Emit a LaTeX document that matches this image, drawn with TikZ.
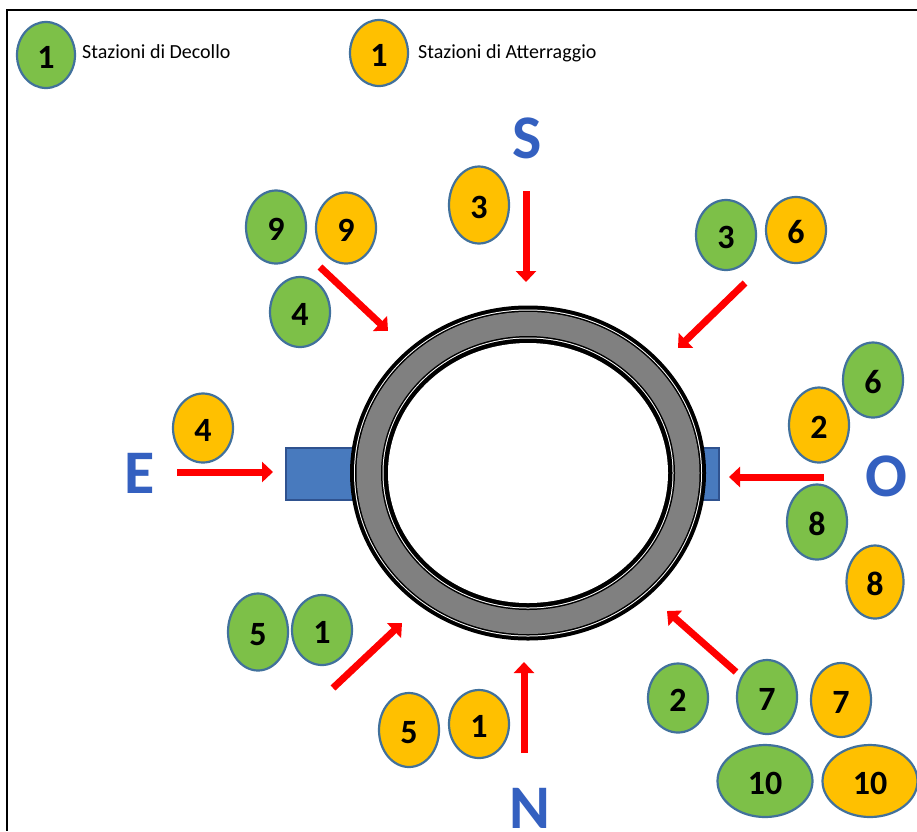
\documentclass[tikz,border=0pt]{standalone}
\usepackage{fontspec}
\setmainfont{Carlito}
\usetikzlibrary{shapes.geometric,arrows.meta}
\definecolor{stgreen}{RGB}{125,192,72}
\definecolor{storange}{RGB}{255,192,0}
\definecolor{stedge}{RGB}{65,113,156}
\definecolor{ringgray}{RGB}{128,128,128}
\definecolor{padfill}{RGB}{72,122,190}
\definecolor{padedge}{RGB}{47,82,143}
\definecolor{compass}{RGB}{52,96,192}
\definecolor{flowred}{RGB}{255,0,0}
\begin{document}
\begin{tikzpicture}[x=1pt,y=-1pt,
  station/.style={ellipse, draw=stedge, line width=2.2pt, inner sep=0pt,
    minimum width=60pt, minimum height=72pt, text height=27pt, text depth=0pt,
    font=\bfseries\fontsize{34}{34}\selectfont},
  takeoff/.style={station, fill=stgreen},
  landing/.style={station, fill=storange},
  wide/.style={minimum width=95pt},
  legendtext/.style={anchor=base west, inner sep=0pt, font=\fontsize{20}{24}\selectfont},
  heading/.style={text=compass, inner sep=0pt, font=\bfseries\fontsize{62}{62}\selectfont},
  flow/.style={draw=flowred, line width=7pt, -{Triangle[width=20pt,length=11pt]}},
  pad/.style={rectangle, fill=padfill, draw=padedge, line width=1.2pt, inner sep=0pt},
]
% page and frame
\useasboundingbox[fill=white] (0,0) rectangle (917,831);
\draw[line width=2.5pt] (917,10) -- (7,10) -- (7,831);

% legend
\node[takeoff, minimum width=58pt, minimum height=66pt] (legT) at (46,55) {1};
\node[legendtext] (legTtxt) at (82,58) {Stazioni di Decollo};
\node[landing, minimum width=58pt, minimum height=66pt] (legL) at (379,53) {1};
\node[legendtext] (legLtxt) at (418,58) {Stazioni di Atterraggio};

% gates on the two sides of the ring
\node[pad, minimum width=70pt, minimum height=52pt] (padE) at (321,474) {};
\node[pad, minimum width=19pt, minimum height=52pt] (padO) at (709.5,474) {};

% the ring: thick outer rim, grey band, thick inner rim
\coordinate (hub) at (528,473);
\fill[black]    (hub) ellipse [x radius=178,   y radius=167.5];
\fill[white]    (hub) ellipse [x radius=174,   y radius=163.5];
\fill[black]    (hub) ellipse [x radius=173,   y radius=162.5];
\fill[ringgray] (hub) ellipse [x radius=171.5, y radius=161];
\fill[black]    (hub) ellipse [x radius=147,   y radius=137];
\fill[white]    (hub) ellipse [x radius=145.5, y radius=135.5];
\fill[black]    (hub) ellipse [x radius=144.5, y radius=134.5];
\fill[white]    (hub) ellipse [x radius=140,   y radius=130];

% compass letters
\node[heading] (hS) at (527,138) {S};
\node[heading] (hE) at (140,473) {E};
\node[heading] (hO) at (886,476) {O};
\node[heading] (hN) at (530,808) {N};

% approach arrows
\coordinate (sFrom)  at (526,191); \coordinate (sTo)  at (526,282);
\coordinate (nwFrom) at (320,267); \coordinate (nwTo) at (388,331);
\coordinate (neFrom) at (745,283); \coordinate (neTo) at (678,348);
\coordinate (eFrom)  at (177,472); \coordinate (eTo)  at (273,472);
\coordinate (oFrom)  at (824,477); \coordinate (oTo)  at (729,477);
\coordinate (swFrom) at (333,688); \coordinate (swTo) at (402,623);
\coordinate (nFrom)  at (524,753); \coordinate (nTo)  at (524,662);
\coordinate (seFrom) at (736,672); \coordinate (seTo) at (667,611);
\draw[flow] (sFrom)  -- (sTo);
\draw[flow] (nwFrom) -- (nwTo);
\draw[flow] (neFrom) -- (neTo);
\draw[flow] (eFrom)  -- (eTo);
\draw[flow] (oFrom)  -- (oTo);
\draw[flow] (swFrom) -- (swTo);
\draw[flow] (nFrom)  -- (nTo);
\draw[flow] (seFrom) -- (seTo);

% stations: north-west
\node[takeoff, minimum height=73pt] (t9) at (276,227) {9};
\node[landing, minimum height=71pt] (l9) at (346,228) {9};
\node[takeoff, minimum height=70pt] (t4) at (300,312) {4};
% south
\node[landing, minimum height=77pt] (l3) at (479,205) {3};
% north-east
\node[takeoff, minimum height=70pt] (t3) at (726,235) {3};
\node[landing, minimum height=66pt] (l6) at (796,230) {6};
% east
\node[landing, minimum height=69pt] (l4) at (203,428) {4};
% west
\node[takeoff, minimum height=75pt] (t6) at (873,380) {6};
\node[landing, minimum height=75pt] (l2) at (819,425) {2};
\node[takeoff, minimum height=75pt] (t8) at (817,522) {8};
\node[landing, minimum height=73pt, minimum width=57pt] (l8) at (875,582) {8};
% south-west
\node[takeoff, minimum height=77pt] (t5) at (258,632) {5};
\node[takeoff, minimum height=70pt] (t1) at (322,630) {1};
\node[landing, minimum height=74pt] (l5) at (409,730) {5};
\node[landing, minimum height=68pt] (l1) at (479,724) {1};
% south-east
\node[takeoff, minimum height=69pt] (t2) at (678,698) {2};
\node[takeoff, minimum height=74pt] (t7) at (767,697) {7};
\node[landing, minimum height=74pt] (l7) at (841,700) {7};
\node[takeoff, wide, minimum height=72pt] (t10) at (765,781) {10};
\node[landing, wide, minimum height=72pt] (l10) at (870,781) {10};
\end{tikzpicture}
\end{document}
